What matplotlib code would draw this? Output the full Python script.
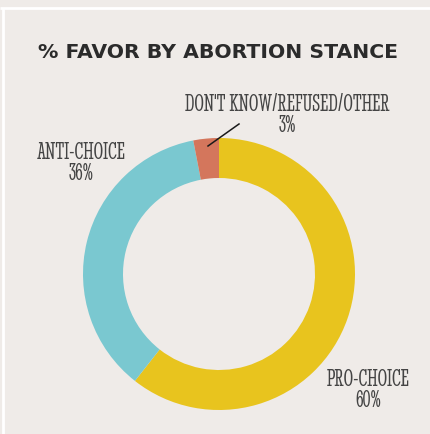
import matplotlib.pyplot as plt

# 数据
stances = ['PRO-CHOICE', 'ANTI-CHOICE', "DON'T KNOW/REFUSED/OTHER"]
favor = [60, 36, 3]
colors = ['#e8c41e', '#7ac8d0', '#d4765c']

bg = '#efebe8'
W, H = 430, 434
fig = plt.figure(figsize=(W / 100, H / 100), dpi=100, facecolor=bg)
ax = fig.add_axes([0, 0, 1, 1])
ax.set_facecolor(bg)

# 环形图，坐标按像素
ax.pie(favor, colors=colors, startangle=90, counterclock=False,
       center=(219, H - 274), radius=136,
       wedgeprops=dict(width=40, linewidth=0))
ax.set_xlim(0, W)
ax.set_ylim(0, H)
ax.set_aspect('equal')
ax.axis('off')

# 白色边框线
ax.plot([0, W], [H - 7.5, H - 7.5], color='white', lw=2, solid_capstyle='butt')
ax.plot([2.5, 2.5], [0, H - 7.5], color='white', lw=2, solid_capstyle='butt')

ax.text(218, H - 58, '% FAVOR BY ABORTION STANCE', ha='center', va='baseline',
        fontsize=14.7, fontweight='bold', color='#2b2b2b', family='DejaVu Sans')

# 标签：两行分开画
lab = dict(ha='center', va='baseline', color='#444444',
           family=['Stint Ultra Condensed', 'DejaVu Sans'], fontsize=17.3)
label_pos = [(368, 386, 407), (81.5, 159, 180), (287.5, 111, 132)]
for name, val, (x, y1, y2) in zip(stances, favor, label_pos):
    ax.text(x, H - y1, name, **lab)
    ax.text(x, H - y2, '%d%%' % val, **lab)

# 引线
ax.plot([239, 208], [H - 124, H - 146], color='#1a1a1a', lw=1.1)

plt.savefig('out.png', dpi=100, facecolor=bg)
